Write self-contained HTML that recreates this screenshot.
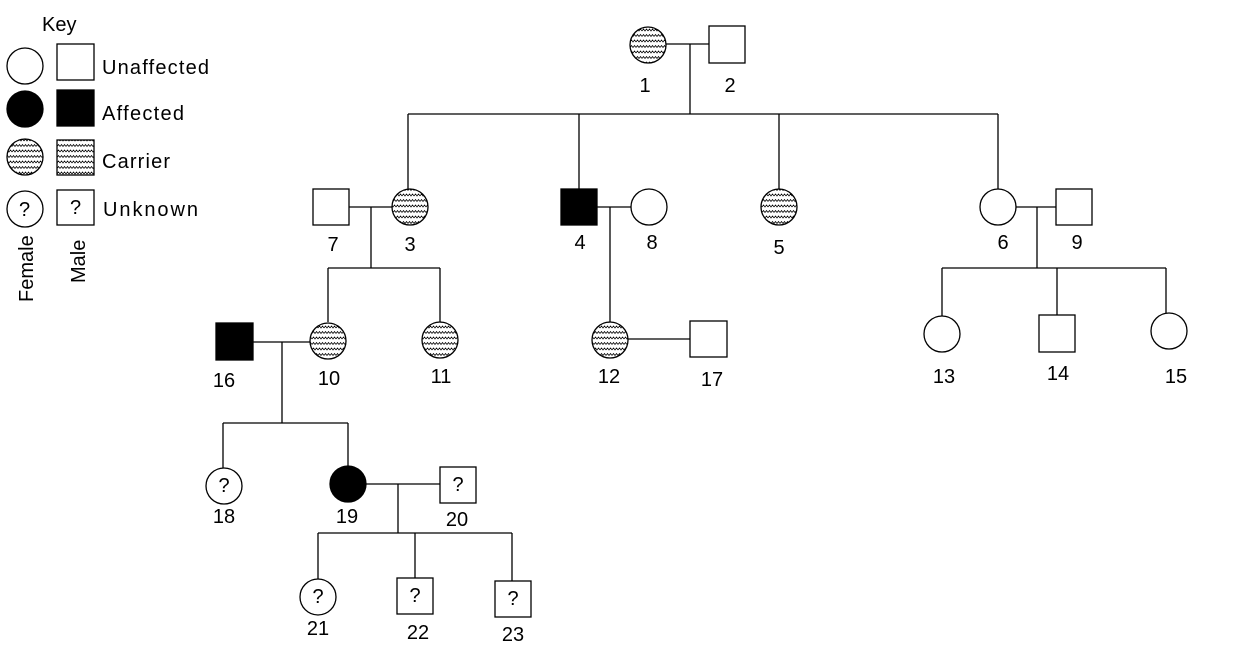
<!DOCTYPE html>
<html><head><meta charset="utf-8"><style>
html,body{margin:0;padding:0;background:#fff;}
svg{display:block;}
text{font-family:"Liberation Sans",sans-serif;font-size:20px;fill:#000;}
</style></head><body>
<svg width="1234" height="662" viewBox="0 0 1234 662" xmlns="http://www.w3.org/2000/svg">
<defs>
<pattern id="w" width="6" height="5.5" patternUnits="userSpaceOnUse">
<rect width="6" height="5.5" fill="#fff"/>
<path d="M0 3.5 L1.5 1.5 L3 3.5 L4.5 1.5 L6 3.5" fill="none" stroke="#000" stroke-width="0.7"/>
</pattern>
</defs>
<g stroke="#000" stroke-width="1.3" fill="none">
<path d="M666 44 H709 M690 44 V114 M408 114 H998 M408 114 V189 M579 114 V189 M779 114 V189 M998 114 V189"/>
<path d="M349 207 H392 M371 207 V268 M328 268 H440 M328 268 V322 M440 268 V322"/>
<path d="M597 207 H631 M610 207 V322 M628 339 H690"/>
<path d="M1016 207 H1056 M1037 207 V268 M942 268 H1166 M942 268 V316 M1057 268 V315 M1166 268 V313"/>
<path d="M253 342 H310 M282 342 V423 M223 423 H348 M223 423 V468 M348 423 V466"/>
<path d="M366 484 H440 M398 484 V533 M318 533 H512 M318 533 V579 M415 533 V578 M512 533 V581"/>
</g>
<g stroke="#000" stroke-width="1.3">
<circle cx="25" cy="66" r="18" fill="#fff"/><rect x="57" y="44" width="37" height="36" fill="#fff"/>
<circle cx="25" cy="109" r="18" fill="#000"/><rect x="57" y="90" width="37" height="36" fill="#000"/>
<circle cx="25" cy="157" r="18" fill="url(#w)"/><rect x="57" y="140" width="37" height="35" fill="url(#w)"/>
<circle cx="25" cy="209" r="18" fill="#fff"/><rect x="57" y="190" width="37" height="35" fill="#fff"/>
<circle cx="648" cy="45" r="18" fill="url(#w)"/><rect x="709" y="26" width="36" height="37" fill="#fff"/>
<rect x="313" y="189" width="36" height="36" fill="#fff"/><circle cx="410" cy="207" r="18" fill="url(#w)"/>
<rect x="561" y="189" width="36" height="36" fill="#000"/><circle cx="649" cy="207" r="18" fill="#fff"/>
<circle cx="779" cy="207" r="18" fill="url(#w)"/>
<circle cx="998" cy="207" r="18" fill="#fff"/><rect x="1056" y="189" width="36" height="36" fill="#fff"/>
<rect x="216" y="323" width="37" height="37" fill="#000"/>
<circle cx="328" cy="341" r="18" fill="url(#w)"/>
<circle cx="440" cy="340" r="18" fill="url(#w)"/>
<circle cx="610" cy="340" r="18" fill="url(#w)"/>
<rect x="690" y="321" width="37" height="36" fill="#fff"/>
<circle cx="942" cy="334" r="18" fill="#fff"/>
<rect x="1039" y="315" width="36" height="37" fill="#fff"/>
<circle cx="1169" cy="331" r="18" fill="#fff"/>
<circle cx="224" cy="486" r="18" fill="#fff"/>
<circle cx="348" cy="484" r="18" fill="#000"/>
<rect x="440" y="467" width="36" height="36" fill="#fff"/>
<circle cx="318" cy="597" r="18" fill="#fff"/>
<rect x="397" y="578" width="36" height="36" fill="#fff"/>
<rect x="495" y="581" width="36" height="36" fill="#fff"/>
</g>
<g font-size="21">
<text x="42" y="31" font-size="20">Key</text>
<text x="102" y="74" textLength="107">Unaffected</text>
<text x="102" y="120" textLength="82">Affected</text>
<text x="102" y="168" textLength="68">Carrier</text>
<text x="103" y="216" textLength="95">Unknown</text>
</g>
<text x="19" y="216" font-size="18">?</text>
<text x="70" y="214" font-size="18">?</text>
<text transform="translate(33,302) rotate(-90)" font-size="21">Female</text>
<text transform="translate(85,283) rotate(-90)" font-size="21">Male</text>
<g text-anchor="middle" font-size="21">
<text x="645" y="92">1</text><text x="730" y="92">2</text>
<text x="333" y="251">7</text><text x="410" y="251">3</text>
<text x="580" y="249">4</text><text x="652" y="249">8</text>
<text x="779" y="254">5</text>
<text x="1003" y="249">6</text><text x="1077" y="249">9</text>
<text x="224" y="387">16</text><text x="329" y="385">10</text><text x="441" y="383">11</text>
<text x="609" y="383">12</text><text x="712" y="386">17</text>
<text x="944" y="383">13</text><text x="1058" y="380">14</text><text x="1176" y="383">15</text>
<text x="224" y="523">18</text><text x="347" y="523">19</text><text x="457" y="526">20</text>
<text x="318" y="635">21</text><text x="418" y="639">22</text><text x="513" y="641">23</text>
</g>
<g text-anchor="middle" font-size="18">
<text x="224" y="492">?</text><text x="458" y="491">?</text>
<text x="318" y="603">?</text><text x="415" y="602">?</text><text x="513" y="605">?</text>
</g>
</svg>
</body></html>
